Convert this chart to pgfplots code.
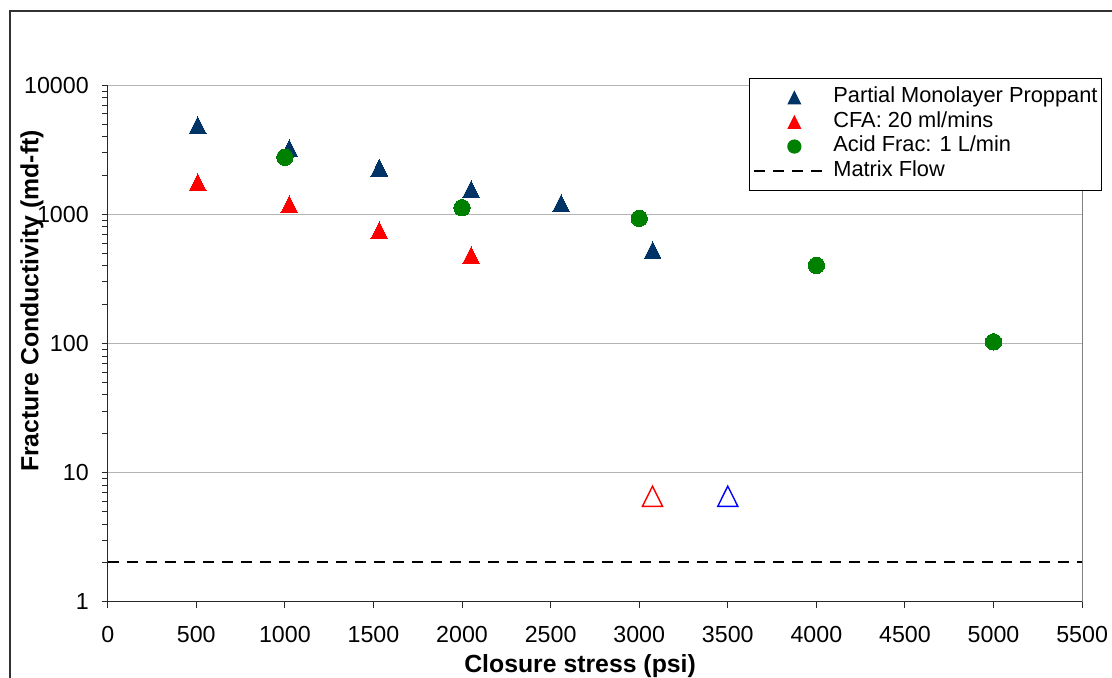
\documentclass[border=0pt]{standalone}
\usepackage{fontspec}
\setmainfont{Liberation Sans}
\usepackage{pgfplots}
\pgfplotsset{compat=1.18}
\definecolor{navy}{RGB}{0,51,102}
\definecolor{mgreen}{RGB}{0,128,0}
\definecolor{gridgray}{RGB}{180,180,180}
\definecolor{axdark}{RGB}{40,40,40}
\definecolor{framegray}{RGB}{50,50,50}
\begin{document}
\begin{tikzpicture}
\useasboundingbox (-53.85pt,-37.65pt) rectangle (502.1pt,300.85pt);
\begin{axis}[
  at={(0,0)}, anchor=south west,
  scale only axis,
  width=487.15pt, height=258.2pt,
  xmin=0, xmax=5500,
  ymode=log, ymin=1, ymax=10000,
  axis x line*=bottom, axis y line*=left,
  axis line style={line width=0.5pt, draw=axdark},
  every outer x axis line/.append style={-},
  every outer y axis line/.append style={-},
  tick align=outside,
  major tick length=3pt,
  tick style={line width=0.5pt, draw=axdark},
  xtick={0,500,1000,1500,2000,2500,3000,3500,4000,4500,5000,5500},
  xticklabels={0,500,1000,1500,2000,2500,3000,3500,4000,4500,5000,5500},
  ytick={1,10,100,1000,10000},
  yticklabels={1,10,100,1000,10000},
  minor ytick={},
  ymajorgrids,
  major grid style={line width=0.5pt, draw=gridgray},
  ticklabel style={font=\fontsize{11.6}{13}\selectfont, inner sep=0pt},
  xticklabel style={anchor=north, yshift=-9pt},
  yticklabel style={anchor=east, xshift=-6.3pt},
  xlabel={Closure stress (psi)},
  ylabel={Fracture Conductivity (md-ft)},
  label style={font=\fontsize{12.4}{14}\selectfont\bfseries, inner sep=0pt},
  xlabel style={at={(axis description cs:0.4848,-0.1361)}, anchor=base},
  ylabel style={at={(axis description cs:-0.0712,0.5823)}, anchor=base},
  clip=false,
  legend cell align=left,
  legend style={at={(1.0205,1.0141)}, anchor=north east,
    draw=black, line width=0.5pt, fill=white,
    font=\fontsize{10.9}{12}\selectfont,
    inner xsep=2pt, inner ysep=3.5pt,
    row sep=0pt, column sep=3pt,
    nodes={inner sep=0pt, text height=8.7pt, text depth=3.5pt}},
]
% Matrix flow
\addplot[forget plot, black, line width=1pt, dash pattern=on 5.5pt off 4pt] coordinates {(0,2.04) (5500,2.04)};
% Partial monolayer proppant
\addplot[forget plot, only marks, mark=triangle*, mark size=4.8pt, color=navy,
  mark options={fill=navy, draw=navy, line width=0pt, yshift=-1.38pt, yscale=1.16}]
  coordinates {(508,4920) (1025,3250) (1533,2300) (2051,1565) (2559,1220) (3076,530)};
% CFA
\addplot[forget plot, only marks, mark=triangle*, mark size=4.8pt, color=red,
  mark options={fill=red, draw=red, line width=0pt, yshift=-1.38pt, yscale=1.16}]
  coordinates {(508,1775) (1025,1197) (1533,753) (2051,482)};
% Acid frac
\addplot[forget plot, only marks, mark=*, mark size=4.1pt, color=mgreen,
  mark options={fill=mgreen, draw=mgreen, line width=0pt}]
  coordinates {(1000,2770) (2000,1127) (3000,933) (4000,403) (5000,103)};
% open triangles
\addplot[forget plot, only marks, mark=triangle, mark size=5.8pt, color=red,
  mark options={draw=red, line width=0.7pt, yshift=-1.67pt, yscale=1.16}]
  coordinates {(3075,6.56)};
\addplot[forget plot, only marks, mark=triangle, mark size=5.8pt, color=blue,
  mark options={draw=blue, line width=0.7pt, yshift=-1.67pt, yscale=1.16}]
  coordinates {(3500,6.56)};
% right border
\draw[line width=0.5pt, draw=gray] (rel axis cs:1,0) -- (rel axis cs:1,1);
% legend
\addlegendimage{legend image code/.code={\path (0pt,0pt) (36pt,0pt);
  \fill[navy, yshift=-1pt, yscale=1.16] (20pt,3.55pt) -- (23.07pt,-1.775pt) -- (16.93pt,-1.775pt) -- cycle;}}
\addlegendentry{Partial Monolayer Proppant}
\addlegendimage{legend image code/.code={\path (0pt,0pt) (36pt,0pt);
  \fill[red, yshift=-1pt, yscale=1.16] (20pt,3.55pt) -- (23.07pt,-1.775pt) -- (16.93pt,-1.775pt) -- cycle;}}
\addlegendentry{CFA: 20 ml/mins}
\addlegendimage{legend image code/.code={\path (0pt,0pt) (36pt,0pt);
  \fill[mgreen] (20pt,0pt) circle (3.3pt);}}
\addlegendentry{Acid Frac: 1 L/min}
\addlegendimage{legend image code/.code={
  \draw[black, line width=1pt, dash pattern=on 5.5pt off 4pt] (0pt,0pt) -- (36pt,0pt);}}
\addlegendentry{Matrix Flow}
\end{axis}
\draw[line width=0.75pt, draw=framegray] (-48.85pt,-40pt) -- (-48.85pt,295.35pt) -- (510pt,295.35pt);
\end{tikzpicture}
\end{document}
